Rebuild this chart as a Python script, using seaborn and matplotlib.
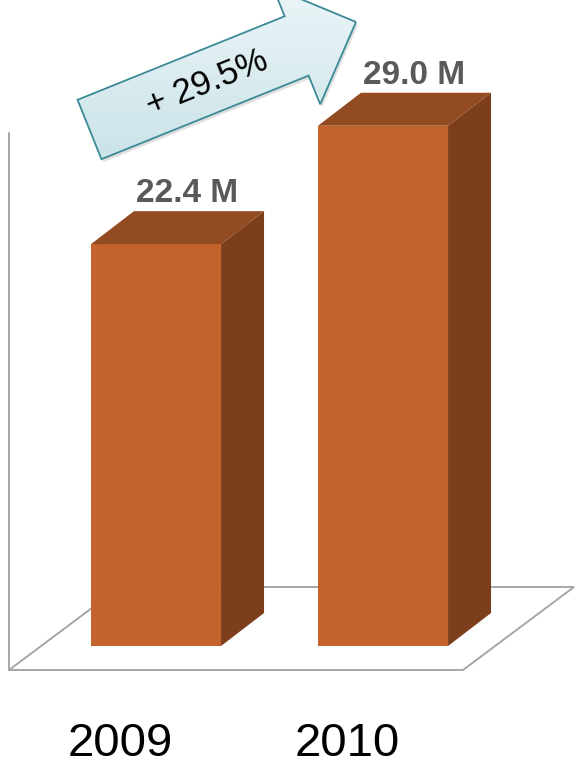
import numpy as np
import pandas as pd
import seaborn as sns
import matplotlib
matplotlib.use("Agg")
import matplotlib.pyplot as plt
from matplotlib import transforms as mtransforms
from matplotlib.patches import Polygon, FancyArrow
from matplotlib.lines import Line2D

# ---- data -------------------------------------------------------------
years = ["2009", "2010"]
subscribers = [22.4, 29.0]          # millions
value_labels = ["22.4 M", "29.0 M"]
growth_label = "+ 29.5%"

# ---- style ------------------------------------------------------------
W, H, DPI = 578, 764, 100
FRONT = "#C4632D"
TOP = "#934C22"
SIDE = "#7D3E1B"
FLOOR = "#A6A6A6"
LABEL_GREY = "#595959"
ARROW_EDGE = "#3C8A96"
DEPTH_PX = (43, 33)                 # 3-D extrusion of the bars, in pixels

sns.set_theme(style="white")
plt.rcParams["font.family"] = ["Liberation Sans", "DejaVu Sans"]

fig = plt.figure(figsize=(W / DPI, H / DPI), dpi=DPI)
fig.patch.set_facecolor("white")
ax = fig.add_axes([0, 64 / H, 1, 700 / H])

df = pd.DataFrame({"year": years, "subscribers": subscribers})
sns.barplot(data=df, x="year", y="subscribers", color=FRONT, saturation=1,
            width=0.573, ax=ax, zorder=3, linewidth=0)

ax.set_xlim(-0.6872, 1.859)
ax.set_ylim(-3.01, 36.01)
ax.set_autoscale_on(False)
for s in ax.spines.values():
    s.set_visible(False)
ax.set_yticks([])
ax.set_xlabel("")
ax.set_ylabel("")
ax.set_facecolor("white")

# transform for decorations given in pixels measured from the top-left corner
pix = (mtransforms.Affine2D().scale(1, -1).translate(0, H).scale(1 / DPI)
       + fig.dpi_scale_trans)

# perspective floor and left wall edge
floor = [(9, 670), (463, 670), (574, 587), (120, 587), (9, 670)]
fx, fy = zip(*floor)
ax.add_artist(Line2D(fx, fy, color=FLOOR, lw=1.4, transform=pix, zorder=1,
                     solid_joinstyle="miter"))
ax.add_artist(Line2D([9, 9], [133, 670], color=FLOOR, lw=1.4, transform=pix,
                     zorder=1))

# extrusion offset converted into data units
fig.canvas.draw()
origin = ax.transData.transform((0, 0))
dx, dy = ax.transData.inverted().transform(origin + np.array(DEPTH_PX))

for patch, label in zip(ax.patches, value_labels):
    x0, y0 = patch.get_x(), patch.get_y()
    w, h = patch.get_width(), patch.get_height()
    top = [(x0, y0 + h), (x0 + w, y0 + h),
           (x0 + w + dx, y0 + h + dy), (x0 + dx, y0 + h + dy)]
    side = [(x0 + w, y0), (x0 + w + dx, y0 + dy),
            (x0 + w + dx, y0 + h + dy), (x0 + w, y0 + h)]
    ax.add_patch(Polygon(top, closed=True, facecolor=TOP, edgecolor="none",
                         zorder=3))
    ax.add_patch(Polygon(side, closed=True, facecolor=SIDE, edgecolor="none",
                         zorder=3))
    ax.annotate(label, xy=(x0 + w / 2, y0 + h), xytext=(31, 42),
                textcoords="offset pixels", ha="center", va="baseline",
                fontsize=24, fontweight="bold", color=LABEL_GREY, zorder=6)

# year labels along the front of the floor
ax.set_xticks(range(len(years)))
ax.set_xticklabels(years, fontsize=34, color="black")
ax.tick_params(axis="x", length=0, pad=15.5)
shift = mtransforms.ScaledTranslation(-36 / DPI, 0, fig.dpi_scale_trans)
for lab in ax.get_xticklabels():
    lab.set_transform(lab.get_transform() + shift)

# growth arrow with a soft vertical gradient and a faint drop shadow
tail = np.array([89.5, 129.5])
tip = np.array([356.0, 22.0])
arrow_kw = dict(width=64, head_width=126, head_length=64,
                length_includes_head=True)


def make_arrow(transform, **style):
    return FancyArrow(tail[0], tail[1], tip[0] - tail[0], tip[1] - tail[1],
                      transform=transform, **arrow_kw, **style)


shadow_tr = pix + mtransforms.ScaledTranslation(2 / DPI, -3 / DPI,
                                                fig.dpi_scale_trans)
ax.add_artist(make_arrow(shadow_tr, facecolor="black", edgecolor="none",
                         alpha=0.12, zorder=6))

outline = make_arrow(pix, facecolor="none", edgecolor=ARROW_EDGE, lw=1.3,
                     zorder=8)
ax.add_artist(outline)

grad = np.linspace(0, 1, 256)[:, None]
cmap = matplotlib.colors.LinearSegmentedColormap.from_list(
    "ice", ["#EDF6F8", "#C8E2E7"])
im = ax.imshow(grad, cmap=cmap, aspect="auto", origin="upper",
               extent=(60, 370, 170, -20), zorder=7, interpolation="bilinear")
im.set_transform(pix)
im.set_clip_path(outline)

angle = np.degrees(np.arctan2(tail[1] - tip[1], tip[0] - tail[0]))
ax.text(207, 83, growth_label, transform=pix, rotation=angle,
        rotation_mode="anchor", ha="center", va="center", fontsize=25,
        color="black", zorder=9)

ax.set_xlim(-0.6872, 1.859)
ax.set_ylim(-3.01, 36.01)

fig.savefig("out.png", dpi=DPI, facecolor="white")
